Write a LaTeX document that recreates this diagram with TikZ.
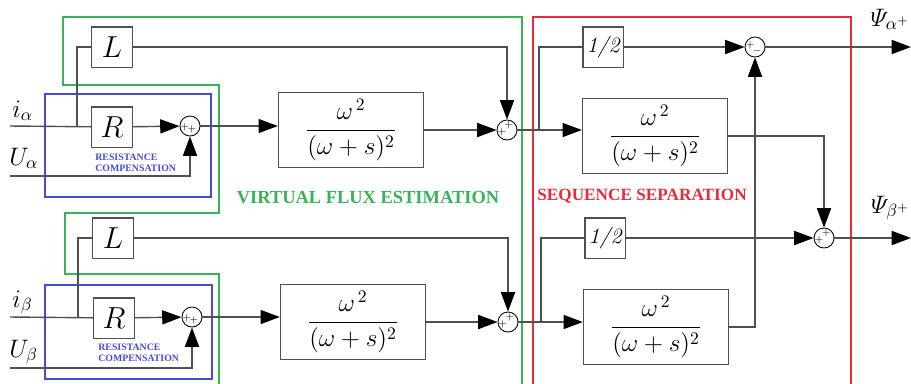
\documentclass[tikz,border=0pt]{standalone}
\usepackage{amsmath}
\usepackage{fontspec}
\newfontfamily\timesfont{Liberation Serif}
\usetikzlibrary{arrows.meta}
\definecolor{linegray}{RGB}{80,80,80}
\definecolor{vfgreen}{RGB}{55,180,85}
\definecolor{ssred}{RGB}{232,45,55}
\definecolor{rcblue}{RGB}{70,75,215}
\tikzset{
  blk/.style={draw=linegray, line width=0.8pt, minimum size=23pt, inner sep=0pt, font=\fontsize{16}{18}\selectfont},
  half/.style={blk, font=\fontsize{12.5}{14}\selectfont\itshape},
  lpf/.style={draw=linegray, line width=0.8pt, minimum width=82.5pt, minimum height=42.7pt, inner sep=0pt, font=\fontsize{14}{16}\selectfont},
  sum/.style={circle, draw=black, line width=0.5pt, minimum size=11.4pt, inner sep=0pt},
  sgn/.style={inner sep=0pt, font=\fontsize{4}{4}\selectfont},
  lbl/.style={inner sep=0pt, font=\fontsize{14}{16}\selectfont},
  wire/.style={draw=linegray, line width=0.8pt},
  arr/.style={wire, -{Triangle[length=11pt,width=8pt,color=black,fill=black]}},
  rctext/.style={inner sep=0pt, align=left, text=rcblue, font=\fontsize{5.6}{6.3}\selectfont\timesfont\bfseries},
}
\newcommand{\lpftf}{$\dfrac{\omega^{\,2}}{(\omega+s)^{2}}$}
\begin{document}
\begin{tikzpicture}[x=0.02cm,y=-0.02cm]
	\useasboundingbox (0,0) rectangle (911,383);
	% frames
	\draw[vfgreen, line width=0.9pt] (219,390) -- (219,274) -- (65,274) -- (65,213) -- (219,213) -- (219,85) -- (63,85) -- (63,17) -- (522,17) -- (522,390);
	\draw[ssred, line width=0.9pt] (533,390) -- (533,17) -- (851,17) -- (851,390);
	\draw[rcblue, line width=0.9pt] (45,94) rectangle (211,197);
	\draw[rcblue, line width=0.9pt] (45,285) rectangle (212,379);
	\node[anchor=base, text=vfgreen, inner sep=0pt, font=\fontsize{10.5}{12}\selectfont\timesfont\bfseries] (vfe) at (368,203) {VIRTUAL FLUX ESTIMATION};
	\node[anchor=base, text=ssred, inner sep=0pt, font=\fontsize{9.8}{12}\selectfont\timesfont\bfseries] (sse) at (642,200) {SEQUENCE SEPARATION};
	\node[rctext, anchor=north west] (rca) at (95,154) {RESISTANCE\\COMPENSATION};
	\node[rctext, anchor=north west] (rcb) at (98,344) {RESISTANCE\\COMPENSATION};

	% alpha row
	\coordinate (ia) at (10,126);
	\coordinate (ua) at (10,176);
	\coordinate (ja) at (77,126);
	\coordinate (ka) at (539,130);
	\coordinate (oa) at (911,47);
	\node[lbl, anchor=base west] (lia) at (12,117) {$i_\alpha$};
	\node[lbl, anchor=base west] (lua) at (9,165) {$U_\alpha$};
	\node[blk] (La) at (112,47) {$L$};
	\node[blk] (Ra) at (112,127) {$R$};
	\node[sum] (s1) at (190,126) {};
	\node[lpf] (Fa) at (351,130) {\lpftf};
	\node[sum] (s2) at (507,130) {};
	\node[half] (Ha) at (603,47) {1/2};
	\node[lpf] (Ga) at (655,136) {\lpftf};
	\node[sum] (s3) at (755,47) {};
	\node[lbl, anchor=base east] (psa) at (910,26) {$\varPsi_{\alpha^{+}}$};

	% beta row
	\coordinate (ib) at (10,317);
	\coordinate (ub) at (10,368);
	\coordinate (jb) at (78,317);
	\coordinate (kb) at (541,322);
	\coordinate (ob) at (911,238);
	\node[lbl, anchor=base west] (lib) at (12,307) {$i_\beta$};
	\node[lbl, anchor=base west] (lub) at (9,357) {$U_\beta$};
	\node[blk] (Lb) at (113,238) {$L$};
	\node[blk] (Rb) at (114,318) {$R$};
	\node[sum] (s5) at (192,317) {};
	\node[lpf] (Fb) at (353,322) {\lpftf};
	\node[sum] (s6) at (508,322) {};
	\node[half] (Hb) at (605,238) {1/2};
	\node[lpf] (Gb) at (656,327) {\lpftf};
	\node[sum] (s4) at (824,238) {};
	\node[lbl, anchor=base east] (psb) at (910,213) {$\varPsi_{\beta^{+}}$};

	% signs
	\node[sgn] (s1a) at ([shift={(-5,1)}]s1.center) {$+$};
	\node[sgn] (s1b) at ([shift={(2,3)}]s1.center) {$+$};
	\node[sgn] (s2a) at ([shift={(2,-5)}]s2.center) {$+$};
	\node[sgn] (s2b) at ([shift={(-5,2)}]s2.center) {$+$};
	\node[sgn] (s3a) at ([shift={(-5,-2)}]s3.center) {$+$};
	\node[sgn] (s3b) at ([shift={(2,4)}]s3.center) {$-$};
	\node[sgn] (s4a) at ([shift={(2,-5)}]s4.center) {$+$};
	\node[sgn] (s4b) at ([shift={(-5,2)}]s4.center) {$+$};
	\node[sgn] (s5a) at ([shift={(-5,1)}]s5.center) {$+$};
	\node[sgn] (s5b) at ([shift={(2,3)}]s5.center) {$+$};
	\node[sgn] (s6a) at ([shift={(2,-5)}]s6.center) {$+$};
	\node[sgn] (s6b) at ([shift={(-5,2)}]s6.center) {$+$};

	% alpha connectors
	\draw[wire] (ia) -- (Ra);
	\draw[wire] (ja) |- (La);
	\draw[arr] (Ra) -- (s1);
	\draw[arr] (ua) -| (s1);
	\draw[arr] (s1) -- (s1 -| Fa.west);
	\draw[arr] (Fa) -- (s2);
	\draw[arr] (La) -| (s2);
	\draw[wire] (s2) -- (ka);
	\draw[wire] (ka) |- (Ha);
	\draw[arr] (ka) -- (ka -| Ga.west);
	\draw[arr] (Ha) -- (s3);
	\draw[arr] (s3) -- (oa);
	\draw[arr] (Ga.east) -| (s4);

	% beta connectors
	\draw[wire] (ib) -- (Rb);
	\draw[wire] (jb) |- (Lb);
	\draw[arr] (Rb) -- (s5);
	\draw[arr] (ub) -| (s5);
	\draw[arr] (s5) -- (s5 -| Fb.west);
	\draw[arr] (Fb) -- (s6);
	\draw[arr] (Lb) -| (s6);
	\draw[wire] (s6) -- (kb);
	\draw[wire] (kb) |- (Hb);
	\draw[arr] (kb) -- (kb -| Gb.west);
	\draw[arr] (Hb) -- (s4);
	\draw[arr] (s4) -- (ob);
	\draw[arr] (Gb.east) -| (s3);
\end{tikzpicture}
\end{document}
